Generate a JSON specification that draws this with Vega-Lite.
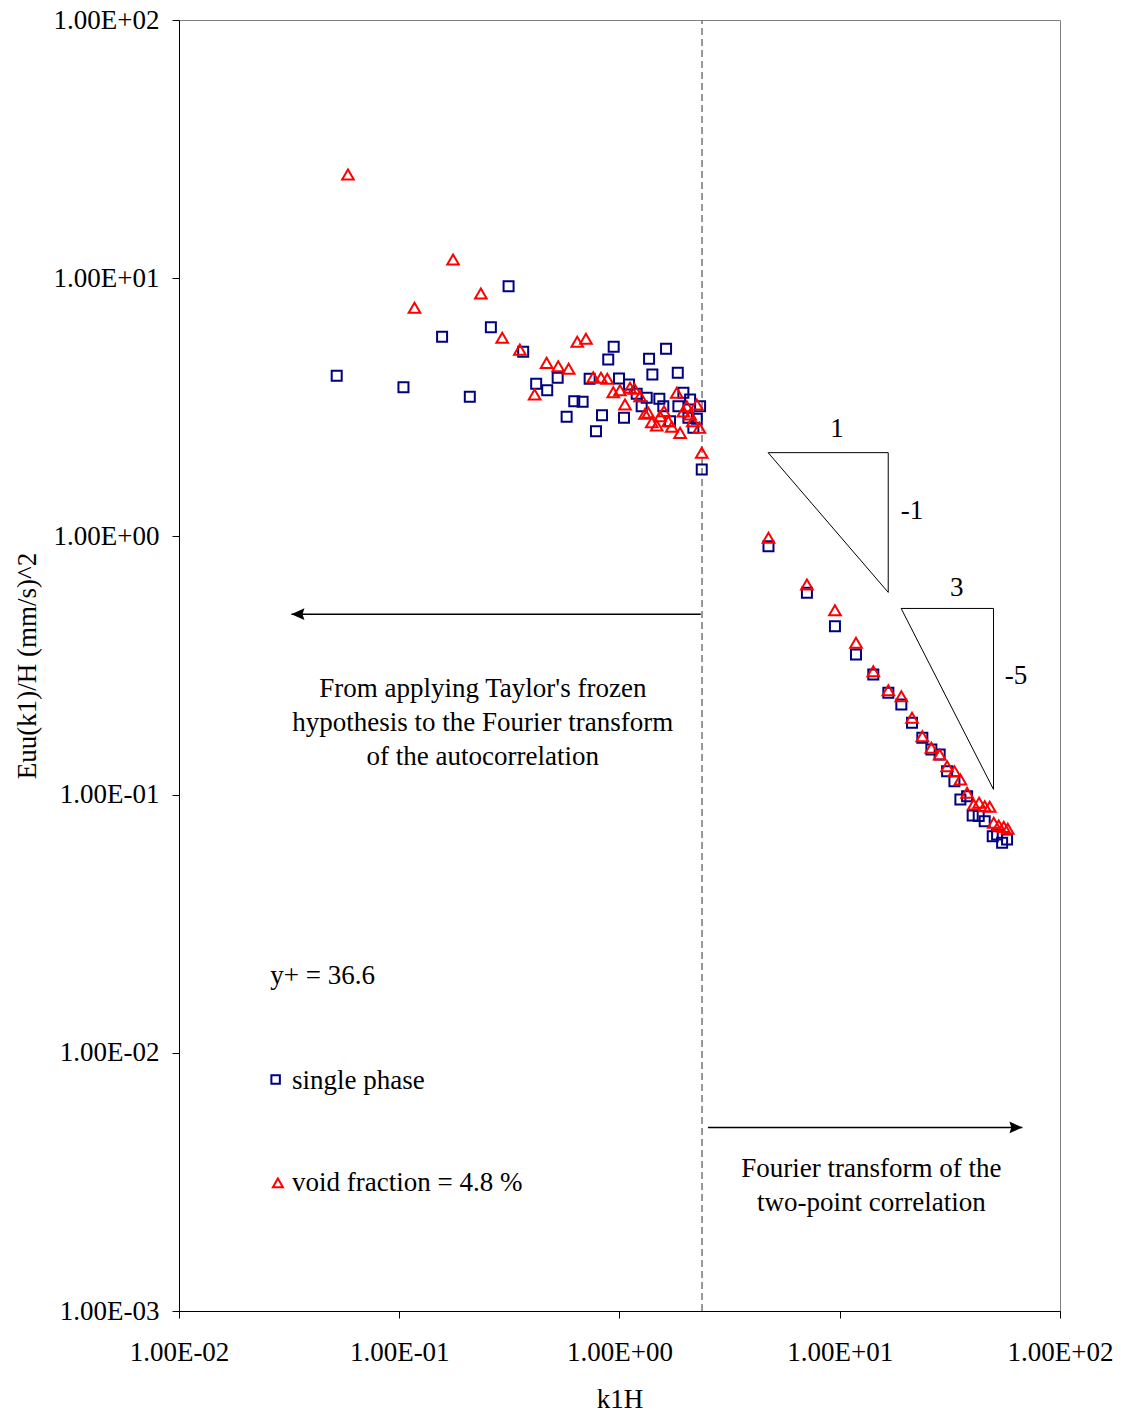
{
  "$schema": "https://vega.github.io/schema/vega-lite/v6.json",
  "width": 881,
  "height": 1291,
  "autosize": {"type": "none"},
  "padding": {"left": 179, "top": 20, "right": 63, "bottom": 103},
  "background": "white",
  "config": {
    "font": "Liberation Serif",
    "view": {"stroke": "#808080", "strokeWidth": 1},
    "axis": {
      "labelFont": "Liberation Serif", "titleFont": "Liberation Serif",
      "labelFontSize": 27, "titleFontSize": 27,
      "labelColor": "black", "titleColor": "black",
      "domainColor": "black", "tickColor": "black",
      "titleFontWeight": "normal", "grid": false,
      "labelOverlap": false, "labelFlush": false
    }
  },
  "datasets": {
    "pts": [
      {"series": "void", "x": 0.0585, "y": 25.2},
      {"series": "void", "x": 0.1755, "y": 11.81},
      {"series": "void", "x": 0.2347, "y": 8.72},
      {"series": "void", "x": 0.1173, "y": 7.68},
      {"series": "void", "x": 0.2934, "y": 5.88},
      {"series": "void", "x": 0.3529, "y": 5.29},
      {"series": "void", "x": 0.643, "y": 5.67},
      {"series": "void", "x": 0.704, "y": 5.83},
      {"series": "void", "x": 0.4668, "y": 4.70},
      {"series": "void", "x": 0.527, "y": 4.56},
      {"series": "void", "x": 0.5876, "y": 4.46},
      {"series": "void", "x": 0.4117, "y": 3.545},
      {"series": "void", "x": 0.760, "y": 4.136},
      {"series": "void", "x": 0.824, "y": 4.115},
      {"series": "void", "x": 0.880, "y": 4.078},
      {"series": "void", "x": 0.937, "y": 3.618},
      {"series": "void", "x": 1.005, "y": 3.683},
      {"series": "void", "x": 1.059, "y": 3.242},
      {"series": "void", "x": 1.116, "y": 3.763},
      {"series": "void", "x": 1.168, "y": 3.730},
      {"series": "void", "x": 1.240, "y": 3.491},
      {"series": "void", "x": 1.306, "y": 2.984},
      {"series": "void", "x": 1.352, "y": 3.011},
      {"series": "void", "x": 1.401, "y": 2.769},
      {"series": "void", "x": 1.476, "y": 2.689},
      {"series": "void", "x": 1.528, "y": 2.921},
      {"series": "void", "x": 1.593, "y": 3.054},
      {"series": "void", "x": 1.666, "y": 2.794},
      {"series": "void", "x": 1.727, "y": 2.658},
      {"series": "void", "x": 1.820, "y": 3.599},
      {"series": "void", "x": 1.884, "y": 2.518},
      {"series": "void", "x": 1.950, "y": 3.05},
      {"series": "void", "x": 2.021, "y": 3.194},
      {"series": "void", "x": 2.092, "y": 2.966},
      {"series": "void", "x": 2.151, "y": 2.794},
      {"series": "void", "x": 2.243, "y": 3.242},
      {"series": "void", "x": 2.305, "y": 2.634},
      {"series": "void", "x": 2.363, "y": 2.108},
      {"series": "void", "x": 4.747, "y": 0.9876},
      {"series": "void", "x": 7.095, "y": 0.6513},
      {"series": "void", "x": 9.51, "y": 0.5179},
      {"series": "void", "x": 11.85, "y": 0.3872},
      {"series": "void", "x": 14.20, "y": 0.3006},
      {"series": "void", "x": 16.62, "y": 0.2537},
      {"series": "void", "x": 19.04, "y": 0.2404},
      {"series": "void", "x": 21.29, "y": 0.1984},
      {"series": "void", "x": 23.71, "y": 0.1684},
      {"series": "void", "x": 26.06, "y": 0.1518},
      {"series": "void", "x": 28.42, "y": 0.1430},
      {"series": "void", "x": 30.72, "y": 0.1288},
      {"series": "void", "x": 33.16, "y": 0.1232},
      {"series": "void", "x": 35.30, "y": 0.1144},
      {"series": "void", "x": 37.86, "y": 0.1016},
      {"series": "void", "x": 40.57, "y": 0.0916},
      {"series": "void", "x": 42.93, "y": 0.0930},
      {"series": "void", "x": 45.51, "y": 0.0902},
      {"series": "void", "x": 47.96, "y": 0.0897},
      {"series": "void", "x": 50.02, "y": 0.0778},
      {"series": "void", "x": 52.7, "y": 0.0759},
      {"series": "void", "x": 55.54, "y": 0.0750},
      {"series": "void", "x": 57.91, "y": 0.0737},
      {"series": "single", "x": 0.0520, "y": 4.19},
      {"series": "single", "x": 0.1045, "y": 3.785},
      {"series": "single", "x": 0.1565, "y": 5.93},
      {"series": "single", "x": 0.2091, "y": 3.473},
      {"series": "single", "x": 0.2606, "y": 6.46},
      {"series": "single", "x": 0.3136, "y": 9.31},
      {"series": "single", "x": 0.3653, "y": 5.19},
      {"series": "single", "x": 0.4185, "y": 3.90},
      {"series": "single", "x": 0.4697, "y": 3.683},
      {"series": "single", "x": 0.5239, "y": 4.115},
      {"series": "single", "x": 0.5754, "y": 2.905},
      {"series": "single", "x": 0.6231, "y": 3.339},
      {"series": "single", "x": 0.680, "y": 3.321},
      {"series": "single", "x": 0.782, "y": 2.555},
      {"series": "single", "x": 0.833, "y": 2.947},
      {"series": "single", "x": 0.889, "y": 4.843},
      {"series": "single", "x": 0.941, "y": 5.424},
      {"series": "single", "x": 0.732, "y": 4.078},
      {"series": "single", "x": 0.995, "y": 4.089},
      {"series": "single", "x": 1.048, "y": 2.879},
      {"series": "single", "x": 1.105, "y": 3.876},
      {"series": "single", "x": 1.197, "y": 3.567},
      {"series": "single", "x": 1.329, "y": 3.442},
      {"series": "single", "x": 1.362, "y": 4.873},
      {"series": "single", "x": 1.410, "y": 4.236},
      {"series": "single", "x": 1.261, "y": 3.194},
      {"series": "single", "x": 1.517, "y": 3.411},
      {"series": "single", "x": 1.627, "y": 5.33},
      {"series": "single", "x": 1.839, "y": 4.30},
      {"series": "single", "x": 1.581, "y": 3.194},
      {"series": "single", "x": 1.950, "y": 3.599},
      {"series": "single", "x": 1.851, "y": 3.194},
      {"series": "single", "x": 2.092, "y": 3.390},
      {"series": "single", "x": 2.322, "y": 3.194},
      {"series": "single", "x": 2.055, "y": 2.879},
      {"series": "single", "x": 2.243, "y": 2.854},
      {"series": "single", "x": 2.165, "y": 2.634},
      {"series": "single", "x": 1.696, "y": 2.794},
      {"series": "single", "x": 2.363, "y": 1.816},
      {"series": "single", "x": 4.747, "y": 0.9162},
      {"series": "single", "x": 7.095, "y": 0.6047},
      {"series": "single", "x": 9.51, "y": 0.4490},
      {"series": "single", "x": 11.85, "y": 0.3488},
      {"series": "single", "x": 14.20, "y": 0.2919},
      {"series": "single", "x": 16.62, "y": 0.2479},
      {"series": "single", "x": 19.04, "y": 0.2234},
      {"series": "single", "x": 21.29, "y": 0.1897},
      {"series": "single", "x": 23.71, "y": 0.1660},
      {"series": "single", "x": 26.06, "y": 0.1496},
      {"series": "single", "x": 28.42, "y": 0.1430},
      {"series": "single", "x": 30.72, "y": 0.1232},
      {"series": "single", "x": 33.16, "y": 0.1127},
      {"series": "single", "x": 35.30, "y": 0.0957},
      {"series": "single", "x": 37.86, "y": 0.0986},
      {"series": "single", "x": 40.14, "y": 0.0830},
      {"series": "single", "x": 42.75, "y": 0.0826},
      {"series": "single", "x": 45.51, "y": 0.0789},
      {"series": "single", "x": 49.5, "y": 0.0690},
      {"series": "single", "x": 51.8, "y": 0.0701},
      {"series": "single", "x": 54.6, "y": 0.0651},
      {"series": "single", "x": 57.5, "y": 0.0670}
    ],
    "legendpts": [
      {"series": "single", "x": 0.02746, "y": 0.007882},
      {"series": "void", "x": 0.02812, "y": 0.003136}
    ],
    "divider": [{"x": 2.37, "y": 0.001, "y2": 100}],
    "slopes": [
      {"tri": "a", "ord": 1, "x": 4.73, "y": 2.11},
      {"tri": "a", "ord": 2, "x": 16.6, "y": 2.11},
      {"tri": "a", "ord": 3, "x": 16.6, "y": 0.607},
      {"tri": "a", "ord": 4, "x": 4.73, "y": 2.11},
      {"tri": "b", "ord": 1, "x": 19.0, "y": 0.526},
      {"tri": "b", "ord": 2, "x": 49.9, "y": 0.526},
      {"tri": "b", "ord": 3, "x": 49.9, "y": 0.1047},
      {"tri": "b", "ord": 4, "x": 19.0, "y": 0.526}
    ],
    "arrows": [
      {"x": 0.0324, "x2": 2.34, "y": 0.5},
      {"x": 2.52, "x2": 67.5, "y": 0.00514}
    ],
    "heads": [
      {"dir": "left", "x": 0.0324, "y": 0.5},
      {"dir": "right", "x": 67.5, "y": 0.00514}
    ],
    "ctext": [
      {"t": "From applying Taylor's frozen", "x": 0.2395, "y": 0.2388},
      {"t": "hypothesis to the Fourier transform", "x": 0.2395, "y": 0.1764},
      {"t": "of the autocorrelation", "x": 0.2395, "y": 0.1302},
      {"t": "Fourier transform of the", "x": 13.91, "y": 0.003289},
      {"t": "two-point correlation", "x": 13.91, "y": 0.002429},
      {"t": "1", "x": 9.71, "y": 2.437},
      {"t": "-1", "x": 21.29, "y": 1.163},
      {"t": "3", "x": 33.96, "y": 0.5903},
      {"t": "-5", "x": 63.1, "y": 0.2670}
    ],
    "ltext": [
      {"t": "y+ = 36.6", "x": 0.02597, "y": 0.0185},
      {"t": "single phase", "x": 0.0326, "y": 0.007273},
      {"t": "void fraction = 4.8 %", "x": 0.0326, "y": 0.002911}
    ]
  },
  "encoding": {
    "x": {
      "field": "x", "type": "quantitative",
      "scale": {"type": "log", "domain": [0.01, 100], "nice": false},
      "axis": {
        "title": "k1H",
        "values": [0.01, 0.1, 1, 10, 100],
        "labelExpr": "'1.00E' + (datum.value >= 1 ? '+' : '-') + '0' + abs(round(log(datum.value)/LN10))",
        "tickSize": 7, "labelPadding": 21,
        "titleY": 96, "titleBaseline": "alphabetic"
      }
    },
    "y": {
      "field": "y", "type": "quantitative",
      "scale": {"type": "log", "domain": [0.001, 100], "nice": false},
      "axis": {
        "title": "Euu(k1)/H (mm/s)^2",
        "values": [0.001, 0.01, 0.1, 1, 10, 100],
        "labelExpr": "'1.00E' + (datum.value >= 1 ? '+' : '-') + '0' + abs(round(log(datum.value)/LN10))",
        "tickSize": 7, "labelPadding": 13,
        "titleAngle": 270, "titleX": -144, "titleY": 645.5,
        "titleAlign": "center", "titleBaseline": "alphabetic"
      }
    }
  },
  "layer": [
    {
      "data": {"name": "divider"},
      "mark": {"type": "rule", "color": "#777777", "strokeWidth": 1.5, "strokeDash": [7, 4]},
      "encoding": {"y2": {"field": "y2"}}
    },
    {
      "data": {"name": "slopes"},
      "mark": {"type": "line", "color": "black", "strokeWidth": 1},
      "encoding": {
        "detail": {"field": "tri", "type": "nominal"},
        "order": {"field": "ord", "type": "quantitative"}
      }
    },
    {
      "data": {"name": "arrows"},
      "mark": {"type": "rule", "color": "black", "strokeWidth": 1.5},
      "encoding": {"x2": {"field": "x2"}}
    },
    {
      "data": {"name": "heads"},
      "mark": {"type": "point", "filled": true, "color": "black", "opacity": 1, "size": 676, "strokeWidth": 0},
      "encoding": {
        "shape": {
          "field": "dir", "type": "nominal", "legend": null,
          "scale": {"domain": ["left", "right"], "range": ["M0,0L1,-0.45L0.85,0L1,0.45Z", "M0,0L-1,-0.45L-0.85,0L-1,0.45Z"]}
        }
      }
    },
    {
      "data": {"name": "pts"},
      "transform": [{"filter": "datum.series == 'single'"}],
      "mark": {"type": "point", "shape": "square", "filled": false, "color": "#000080", "opacity": 1, "strokeWidth": 2, "size": 100}
    },
    {
      "data": {"name": "pts"},
      "transform": [{"filter": "datum.series == 'void'"}],
      "mark": {"type": "point", "shape": "triangle-up", "filled": false, "color": "#FF0000", "opacity": 1, "strokeWidth": 2, "size": 135}
    },
    {
      "data": {"name": "legendpts"},
      "transform": [{"filter": "datum.series == 'single'"}],
      "mark": {"type": "point", "shape": "square", "filled": false, "color": "#000080", "opacity": 1, "strokeWidth": 2, "size": 72}
    },
    {
      "data": {"name": "legendpts"},
      "transform": [{"filter": "datum.series == 'void'"}],
      "mark": {"type": "point", "shape": "triangle-up", "filled": false, "color": "#FF0000", "opacity": 1, "strokeWidth": 2, "size": 100}
    },
    {
      "data": {"name": "ctext"},
      "mark": {"type": "text", "font": "Liberation Serif", "fontSize": 27, "color": "black", "align": "center", "baseline": "alphabetic"},
      "encoding": {"text": {"field": "t", "type": "nominal"}}
    },
    {
      "data": {"name": "ltext"},
      "mark": {"type": "text", "font": "Liberation Serif", "fontSize": 27, "color": "black", "align": "left", "baseline": "alphabetic"},
      "encoding": {"text": {"field": "t", "type": "nominal"}}
    }
  ]
}
